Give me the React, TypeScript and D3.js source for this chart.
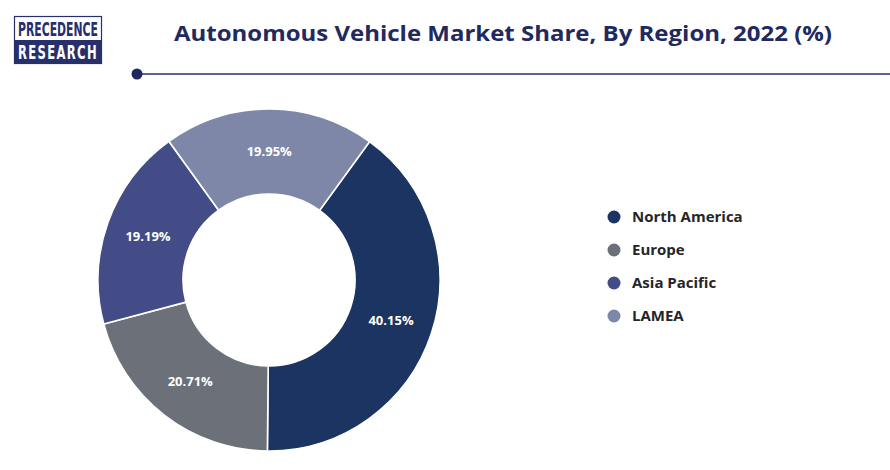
import * as d3 from 'd3';
import React from 'react';

const regions = ["North America", "Europe", "Asia Pacific", "LAMEA"];
const shares = [40.15, 20.71, 19.19, 19.95];
const colours = ["#1c3461", "#6c7079", "#434c86", "#7f87a8"];

const title = "Autonomous Vehicle Market Share, By Region, 2022 (%)";

const width = 890;
const height = 470;

export default function App() {
  const cx = 269;
  const cy = 280;
  const outer = 171;
  const inner = 86;

  // start angle picked so the slices sit where the reference puts them
  const start = (36 * Math.PI) / 180;

  const pie = d3.pie<number>()
    .sort(null)
    .value(d => d)
    .startAngle(start)
    .endAngle(start + 2 * Math.PI);

  const arc = d3.arc<d3.PieArcDatum<number>>()
    .innerRadius(inner)
    .outerRadius(outer);

  const arcs = pie(shares);

  const legendY = d3.scalePoint<string>()
    .domain(regions)
    .range([217, 316]);

  return (
    <svg width={width} height={height}
         style={{position: "absolute", left: 0, top: 0, background: "#fff"}}>
      {/* logo */}
      <g>
        <rect x={14.5} y={16.5} width={87} height={47} fill="#fff" stroke="#27306a" strokeWidth={1.2}/>
        <rect x={15} y={40} width={86} height={23.5} fill="#27306a"/>
        <text x={18} y={36} textLength={80} lengthAdjust="spacingAndGlyphs"
              fontFamily="'DejaVu Sans Condensed', 'DejaVu Sans'" fontWeight="bold" fontSize={19}
              fill="#27306a">PRECEDENCE</text>
        <text x={18} y={59} textLength={80} lengthAdjust="spacingAndGlyphs"
              fontFamily="'DejaVu Sans Condensed', 'DejaVu Sans'" fontWeight="bold" fontSize={19}
              letterSpacing={2} fill="#fff">RESEARCH</text>
      </g>

      <text x={174} y={41} fontFamily="'Open Sans'" fontWeight="bold" fontSize={21}
            fill="#22295e" textLength={658} lengthAdjust="spacingAndGlyphs">{title}</text>

      <line x1={137} x2={width} y1={74} y2={74} stroke="#2a2f6a" strokeWidth={1.5}/>
      <circle cx={137} cy={74} r={5.5} fill="#1f2660"/>

      <g transform={`translate(${cx},${cy})`}>
        {arcs.map((a, i) => (
          <path key={regions[i]} d={arc(a) || ""} fill={colours[i]} stroke="#fff" strokeWidth={1.6}/>
        ))}
        {arcs.map((a, i) => {
          const [x, y] = arc.centroid(a);
          return (
            <text key={"l" + i} x={x} y={y} dy="0.35em" textAnchor="middle"
                  fontFamily="'Open Sans'" fontWeight="bold" fontSize={13} fill="#fff">
              {shares[i].toFixed(2)}%
            </text>
          );
        })}
      </g>

      <g>
        {regions.map((r, i) => (
          <g key={r} transform={`translate(614,${legendY(r)})`}>
            <circle r={6.5} fill={colours[i]}/>
            <text x={18} dy="0.35em" fontFamily="'Open Sans'" fontWeight="bold" fontSize={15}
                  fill="#252528">{r}</text>
          </g>
        ))}
      </g>
    </svg>
  );
}
